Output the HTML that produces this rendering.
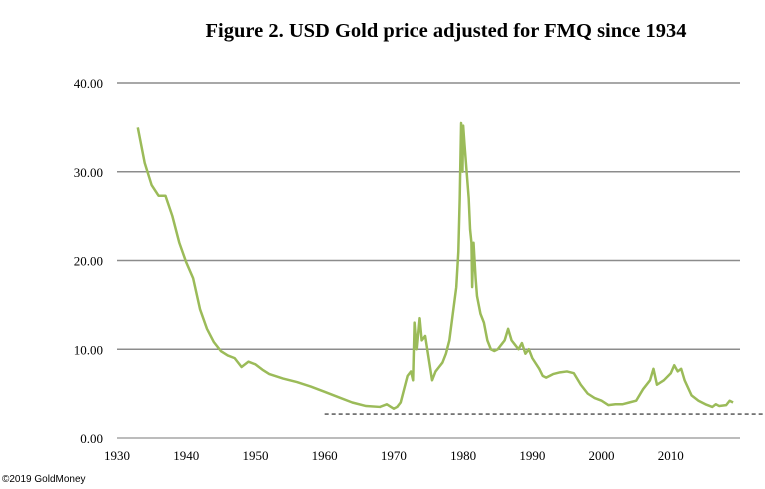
<!DOCTYPE html>
<html><head><meta charset="utf-8"><style>
body{margin:0;background:#fff;width:765px;height:489px;overflow:hidden}
svg{display:block}
</style></head><body>
<svg width="765" height="489">
<text x="446" y="37" text-anchor="middle" font-family="Liberation Serif, serif" font-weight="bold" font-size="20.5">Figure 2. USD Gold price adjusted for FMQ since 1934</text>
<g id="grid"></g><g id="axes"></g><g id="series"></g>
<text x="2" y="482" font-family="Liberation Sans, sans-serif" font-size="10">©2019 GoldMoney</text>
</svg>
<script>
const yTicks=[0,10,20,30,40];
const yTickLabels=["0.00","10.00","20.00","30.00","40.00"];
const xTicks=[1930,1940,1950,1960,1970,1980,1990,2000,2010];
const years=[1933,1934,1935,1936,1937,1938,1939,1940,1941,1942,1943,1944,1945,1946,1947,1948,1949,1950,1951,1952,1954,1956,1958,1960,1962,1964,1966,1968,1969,1970,1970.5,1971,1971.5,1972,1972.5,1972.8,1973,1973.3,1973.7,1974,1974.5,1975,1975.5,1976,1976.5,1977,1977.5,1978,1978.5,1979,1979.3,1979.5,1979.7,1979.9,1980,1980.2,1980.5,1980.8,1981,1981.2,1981.3,1981.5,1981.8,1982,1982.5,1983,1983.5,1984,1984.5,1985,1985.5,1986,1986.5,1987,1987.5,1988,1988.5,1989,1989.5,1990,1991,1991.5,1992,1993,1994,1995,1996,1997,1998,1999,2000,2001,2002,2003,2004,2005,2006,2007,2007.5,2008,2009,2010,2010.5,2011,2011.5,2012,2013,2014,2015,2016,2016.5,2017,2018,2018.5,2019];
const prices=[35,31,28.5,27.3,27.3,25,22,19.8,18,14.5,12.3,10.8,9.8,9.3,9.0,8.0,8.6,8.3,7.7,7.2,6.7,6.3,5.8,5.2,4.6,4.0,3.6,3.5,3.8,3.3,3.5,4.0,5.5,7.0,7.5,6.5,13,10,13.5,11,11.5,9,6.5,7.5,8,8.5,9.5,11,14,17,21,27,35.5,30,35.2,33,30,27,23.5,22,17,22,18,16,14,13,11,10,9.8,10,10.5,11,12.3,11,10.5,10,10.7,9.5,10,9,7.8,7,6.8,7.2,7.4,7.5,7.3,6.0,5.0,4.5,4.2,3.7,3.8,3.8,4.0,4.2,5.5,6.5,7.8,6.0,6.5,7.3,8.2,7.5,7.8,6.5,4.8,4.2,3.8,3.5,3.8,3.6,3.7,4.2,4.0];
const floorValue=2.7;
const NS="http://www.w3.org/2000/svg";
const X0=117,X1=740,Y0=438,Y40=83;
const xs=y=>X0+(y-1930)*(X1-X0)/90;
const ys=v=>Y0-v*(Y0-Y40)/40;
function mk(t,a){const e=document.createElementNS(NS,t);for(const k in a)e.setAttribute(k,a[k]);return e;}
const grid=document.getElementById('grid'),axes=document.getElementById('axes'),ser=document.getElementById('series');
yTicks.forEach((v,i)=>{
 const l=mk('line',{x1:X0,x2:X1,y1:ys(v),y2:ys(v),stroke:v===0?'#a6a6a6':'#8c8c8c','stroke-width':1.5});
 
 
 grid.appendChild(l);
 const t=mk('text',{x:103,y:ys(v)+5,'text-anchor':'end','font-family':'Liberation Serif, serif','font-size':13});
 t.textContent=yTickLabels[i];
 
 
 axes.appendChild(t);
});
xTicks.forEach(y=>{
 const t=mk('text',{x:xs(y),y:Y0+22,'text-anchor':'middle','font-family':'Liberation Serif, serif','font-size':13});
 t.textContent=y;
 
 
 axes.appendChild(t);
});
const d=mk('line',{x1:xs(1960),x2:765,y1:ys(floorValue),y2:ys(floorValue),stroke:'#222','stroke-width':1.2,'stroke-dasharray':'4,3'});


ser.appendChild(d);
const p=mk('polyline',{points:years.map((y,i)=>xs(y)+','+ys(prices[i])).join(' '),fill:'none',stroke:'#9bbb59','stroke-width':2.5,'stroke-linejoin':'round'});


ser.appendChild(p);
</script>
</body></html>
